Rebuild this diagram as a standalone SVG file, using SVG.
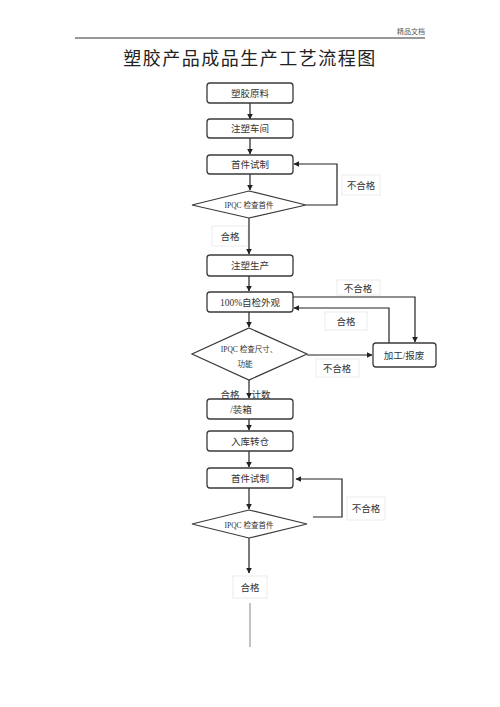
<svg xmlns="http://www.w3.org/2000/svg" width="500" height="707" viewBox="0 0 500 707">
<style>
.box{fill:#fff;stroke:#3a3a3a;stroke-width:1.3}
.dia{fill:#fff;stroke:#3a3a3a;stroke-width:1.2}
.t{font-family:"Liberation Serif","Noto Sans CJK SC",serif;font-size:9.5px;fill:#333;text-anchor:middle}
.ts{font-family:"Liberation Serif","Noto Sans CJK SC",serif;font-size:7.5px;fill:#333;text-anchor:middle}
.lbl{fill:#fff;stroke:#ececec;stroke-width:1}
.ln{fill:none;stroke:#222;stroke-width:1.2}
</style>
<defs>
<marker id="ah" viewBox="0 0 10 10" refX="9" refY="5" markerWidth="6" markerHeight="6" orient="auto" markerUnits="userSpaceOnUse"><path d="M0,0 L10,5 L0,10 z" fill="#222"/></marker>
</defs>
<rect width="500" height="707" fill="#fff"/>
<g id="header">
<line x1="75" y1="38" x2="425" y2="38" stroke="#333" stroke-width="1"/>
<text x="425" y="34" font-family="'Liberation Serif','Noto Sans CJK SC',serif" font-size="7px" fill="#555" text-anchor="end">精品文档</text>
<text x="250" y="65" font-family="'Liberation Serif','Noto Sans CJK SC',serif" font-size="18px" fill="#222" text-anchor="middle" letter-spacing="1.5">塑胶产品成品生产工艺流程图</text>
</g>
<g id="labels">
<rect class="lbl" x="342" y="175" width="38" height="20"/>
<text class="t" x="361" y="189">不合格</text>
<rect class="lbl" x="212" y="226" width="36" height="20"/>
<text class="t" x="230" y="240">合格</text>
<rect class="lbl" x="337" y="280" width="43" height="15"/>
<text class="t" x="358" y="292">不合格</text>
<rect class="lbl" x="325" y="312" width="42" height="18"/>
<text class="t" x="346" y="325">合格</text>
<rect class="lbl" x="316" y="359" width="43" height="18"/>
<text class="t" x="337" y="372">不合格</text>
<rect class="lbl" x="347" y="497" width="38" height="23"/>
<text class="t" x="366" y="512">不合格</text>
<rect class="lbl" x="233" y="576" width="34" height="22"/>
<text class="t" x="250" y="591">合格</text>
<text class="t" x="230" y="398">合格</text>
<text class="t" x="261" y="398">计数</text>
</g>
<g id="connectors">
<line class="ln" x1="250" y1="103" x2="250" y2="119" marker-end="url(#ah)"/>
<line class="ln" x1="250" y1="138" x2="250" y2="154" marker-end="url(#ah)"/>
<line class="ln" x1="250" y1="174" x2="250" y2="190" marker-end="url(#ah)"/>
<polyline class="ln" points="306,205 337,205 337,164 294,164" marker-end="url(#ah)"/>
<line class="ln" x1="249" y1="218" x2="249" y2="254" marker-end="url(#ah)"/>
<line class="ln" x1="249" y1="276" x2="249" y2="291" marker-end="url(#ah)"/>
<line class="ln" x1="249" y1="312" x2="249" y2="327" marker-end="url(#ah)"/>
<polyline class="ln" points="293,297 415,297 415,342" marker-end="url(#ah)"/>
<polyline class="ln" points="389,343 389,308 294,308" marker-end="url(#ah)"/>
<line class="ln" x1="307" y1="355" x2="372" y2="355" marker-end="url(#ah)"/>
<line class="ln" x1="249" y1="380" x2="249" y2="398" marker-end="url(#ah)"/>
<line class="ln" x1="249" y1="419" x2="249" y2="430" marker-end="url(#ah)"/>
<line class="ln" x1="249" y1="451" x2="249" y2="467" marker-end="url(#ah)"/>
<line class="ln" x1="249" y1="488" x2="249" y2="509" marker-end="url(#ah)"/>
<polyline class="ln" points="313,517 342,517 342,479 296,479" marker-end="url(#ah)"/>
<line class="ln" x1="249" y1="538" x2="249" y2="573" marker-end="url(#ah)"/>
<line x1="250" y1="603" x2="250" y2="647" stroke="#999" stroke-width="1.2"/>
</g>
<g id="n1"><rect class="box" x="207" y="83" width="86" height="20" rx="3"/><text class="t" x="250" y="96.5">塑胶原料</text></g>
<g id="n2"><rect class="box" x="207" y="119" width="86" height="19" rx="3"/><text class="t" x="250" y="132">注塑车间</text></g>
<g id="n3"><rect class="box" x="207" y="155" width="86" height="19" rx="3"/><text class="t" x="250" y="168">首件试制</text></g>
<g id="d1"><polygon class="dia" points="249,191 306,205 249,218 192,205"/><text class="ts" x="249" y="208">IPQC 检查首件</text></g>
<g id="n4"><rect class="box" x="207" y="255" width="86" height="21" rx="3"/><text class="t" x="250" y="269">注塑生产</text></g>
<g id="n5"><rect class="box" x="207" y="292" width="86" height="20" rx="3"/><text class="t" x="250" y="305.5">100%自检外观</text></g>
<g id="d2"><polygon class="dia" points="249,328 307,354 249,380 192,354"/><text class="ts" x="249" y="352">IPQC 检查尺寸、</text><text class="ts" x="245" y="367">功能</text></g>
<g id="n6"><rect class="box" x="373" y="343" width="63" height="24" rx="3"/><text class="t" x="404" y="358.5">加工/报废</text></g>
<g id="n7"><rect class="box" x="207" y="399" width="86" height="20" rx="3"/><text class="t" x="241" y="412.5">/装箱</text></g>
<g id="n8"><rect class="box" x="207" y="431" width="86" height="20" rx="3"/><text class="t" x="250" y="444.5">入库转仓</text></g>
<g id="n9"><rect class="box" x="207" y="468" width="86" height="20" rx="3"/><text class="t" x="250" y="481.5">首件试制</text></g>
<g id="d3"><polygon class="dia" points="249,510 307,524 249,538 192,524"/><text class="ts" x="249" y="528">IPQC 检查首件</text></g>
</svg>
